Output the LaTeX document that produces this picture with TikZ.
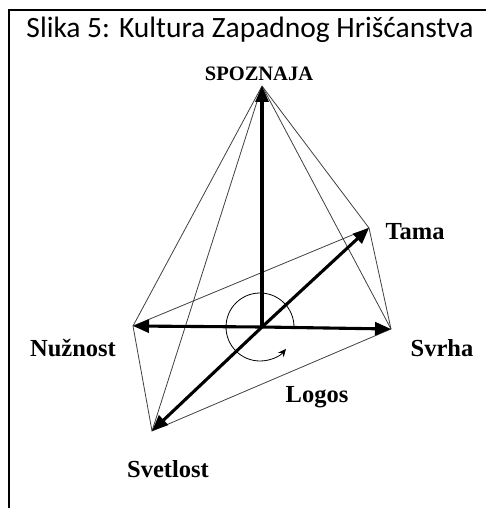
\documentclass[tikz,border=0pt]{standalone}
\usepackage{fontspec}
\newfontfamily\titlefont{Carlito}
\newfontfamily\labelfont{Liberation Serif}
\usetikzlibrary{arrows.meta,calc}
\begin{document}
\begin{tikzpicture}[x=1pt,y=-1pt,
  axis/.style={line width=3.1pt,-{Triangle[length=16pt,width=13pt]}},
  edge/.style={line width=0.8pt,black!75},
  lbl/.style={font=\labelfont\bfseries\fontsize{24.5}{27}\selectfont,inner sep=0pt},
  toplbl/.style={font=\labelfont\bfseries\fontsize{20.5}{23}\selectfont,inner sep=0pt}]
\useasboundingbox (0,0) rectangle (486,508);

% frame
\draw[line width=1.8pt] (9,508) -- (9,10) -- (486,10);
\node[font=\titlefont\fontsize{29.5}{33}\selectfont,inner sep=0pt] (title) at (250,30) {Slika 5: Kultura Zapadnog Hrišćanstva};

% points of the figure
\coordinate (O) at (262,327);
\coordinate (A) at (262,86);
\coordinate (N) at (133,326);
\coordinate (T) at (369,228);
\coordinate (S) at (391,329);
\coordinate (L) at (152,431);

% thin outline
\draw[edge] (A) -- (N);
\draw[edge] (A) -- (L);
\draw[edge] (A) -- (T);
\draw[edge] (A) -- (S);
\draw[edge] (N) -- (T) -- (S) -- (L) -- cycle;

% rotation arc
\draw[line width=0.8pt,-{Stealth[length=8pt,width=7pt]}] ($(O)+(32,0)$) arc[start angle=0,end angle=-320,radius=34];

% axes
\draw[axis] (O) -- (A);
\draw[axis] (O) -- (N);
\draw[axis] (O) -- (S);
\draw[axis] (O) -- (T);
\draw[axis] (O) -- (L);

% labels
\node[toplbl] (spoznaja) at (259,74) {SPOZNAJA};
\node[lbl] (tama) at (415,232) {Tama};
\node[lbl] (nuznost) at (73,348) {Nužnost};
\node[lbl] (svrha) at (442,348) {Svrha};
\node[lbl] (logos) at (317,397) {Logos};
\node[lbl] (svetlost) at (168,469) {Svetlost};
\end{tikzpicture}
\end{document}
